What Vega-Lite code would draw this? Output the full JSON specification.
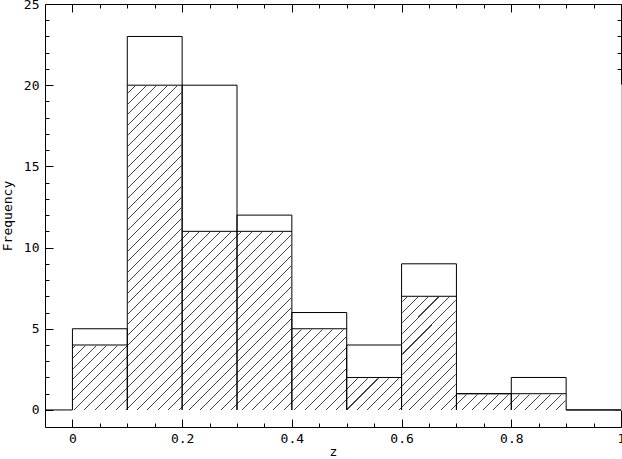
{
  "$schema": "https://vega.github.io/schema/vega-lite/v6.json",
  "autosize": {"type": "none"},
  "padding": {"left": 45, "top": 4, "right": 1, "bottom": 32},
  "width": 576,
  "height": 423,
  "background": "white",
  "data": {"values": [
    {"z0": 0.0, "z1": 0.1, "total": 5, "hatched": 4},
    {"z0": 0.1, "z1": 0.2, "total": 23, "hatched": 20},
    {"z0": 0.2, "z1": 0.3, "total": 20, "hatched": 11},
    {"z0": 0.3, "z1": 0.4, "total": 12, "hatched": 11},
    {"z0": 0.4, "z1": 0.5, "total": 6, "hatched": 5},
    {"z0": 0.5, "z1": 0.6, "total": 4, "hatched": 2},
    {"z0": 0.6, "z1": 0.7, "total": 9, "hatched": 7},
    {"z0": 0.7, "z1": 0.8, "total": 1, "hatched": 1},
    {"z0": 0.8, "z1": 0.9, "total": 2, "hatched": 1},
    {"z0": 0.9, "z1": 1.0, "total": 0, "hatched": 0}
  ]},
  "resolve": {"axis": {"x": "independent", "y": "independent"}},
  "layer": [
    {
      "transform": [{"aggregate": [
        {"op": "min", "field": "z0", "as": "lo"},
        {"op": "max", "field": "z1", "as": "hi"},
        {"op": "max", "field": "hatched", "as": "top"}
      ]}],
      "mark": {"type": "rect", "fill": {"gradient": "linear", "x1": 0, "y1": 0, "x2": 1.1789, "y2": 0.6979, "stops": [
        {"offset": 0, "color": "#404040"}, {"offset": 0.00115, "color": "#404040"}, {"offset": 0.00115, "color": "white"},
        {"offset": 0.01202, "color": "white"}, {"offset": 0.01202, "color": "#404040"}, {"offset": 0.01317, "color": "#404040"}, {"offset": 0.01317, "color": "white"},
        {"offset": 0.02404, "color": "white"}, {"offset": 0.02404, "color": "#404040"}, {"offset": 0.02519, "color": "#404040"}, {"offset": 0.02519, "color": "white"},
        {"offset": 0.03606, "color": "white"}, {"offset": 0.03606, "color": "#404040"}, {"offset": 0.03721, "color": "#404040"}, {"offset": 0.03721, "color": "white"},
        {"offset": 0.04808, "color": "white"}, {"offset": 0.04808, "color": "#404040"}, {"offset": 0.04923, "color": "#404040"}, {"offset": 0.04923, "color": "white"},
        {"offset": 0.0601, "color": "white"}, {"offset": 0.0601, "color": "#404040"}, {"offset": 0.06125, "color": "#404040"}, {"offset": 0.06125, "color": "white"},
        {"offset": 0.07212, "color": "white"}, {"offset": 0.07212, "color": "#404040"}, {"offset": 0.07327, "color": "#404040"}, {"offset": 0.07327, "color": "white"},
        {"offset": 0.08414, "color": "white"}, {"offset": 0.08414, "color": "#404040"}, {"offset": 0.08529, "color": "#404040"}, {"offset": 0.08529, "color": "white"},
        {"offset": 0.09616, "color": "white"}, {"offset": 0.09616, "color": "#404040"}, {"offset": 0.09731, "color": "#404040"}, {"offset": 0.09731, "color": "white"},
        {"offset": 0.10818, "color": "white"}, {"offset": 0.10818, "color": "#404040"}, {"offset": 0.10933, "color": "#404040"}, {"offset": 0.10933, "color": "white"},
        {"offset": 0.1202, "color": "white"}, {"offset": 0.1202, "color": "#404040"}, {"offset": 0.12135, "color": "#404040"}, {"offset": 0.12135, "color": "white"},
        {"offset": 0.13222, "color": "white"}, {"offset": 0.13222, "color": "#404040"}, {"offset": 0.13337, "color": "#404040"}, {"offset": 0.13337, "color": "white"},
        {"offset": 0.14424, "color": "white"}, {"offset": 0.14424, "color": "#404040"}, {"offset": 0.14539, "color": "#404040"}, {"offset": 0.14539, "color": "white"},
        {"offset": 0.15626, "color": "white"}, {"offset": 0.15626, "color": "#404040"}, {"offset": 0.15741, "color": "#404040"}, {"offset": 0.15741, "color": "white"},
        {"offset": 0.16828, "color": "white"}, {"offset": 0.16828, "color": "#404040"}, {"offset": 0.16943, "color": "#404040"}, {"offset": 0.16943, "color": "white"},
        {"offset": 0.1803, "color": "white"}, {"offset": 0.1803, "color": "#404040"}, {"offset": 0.18145, "color": "#404040"}, {"offset": 0.18145, "color": "white"},
        {"offset": 0.19232, "color": "white"}, {"offset": 0.19232, "color": "#404040"}, {"offset": 0.19347, "color": "#404040"}, {"offset": 0.19347, "color": "white"},
        {"offset": 0.20434, "color": "white"}, {"offset": 0.20434, "color": "#404040"}, {"offset": 0.20549, "color": "#404040"}, {"offset": 0.20549, "color": "white"},
        {"offset": 0.21636, "color": "white"}, {"offset": 0.21636, "color": "#404040"}, {"offset": 0.21751, "color": "#404040"}, {"offset": 0.21751, "color": "white"},
        {"offset": 0.22838, "color": "white"}, {"offset": 0.22838, "color": "#404040"}, {"offset": 0.22953, "color": "#404040"}, {"offset": 0.22953, "color": "white"},
        {"offset": 0.2404, "color": "white"}, {"offset": 0.2404, "color": "#404040"}, {"offset": 0.24155, "color": "#404040"}, {"offset": 0.24155, "color": "white"},
        {"offset": 0.25242, "color": "white"}, {"offset": 0.25242, "color": "#404040"}, {"offset": 0.25357, "color": "#404040"}, {"offset": 0.25357, "color": "white"},
        {"offset": 0.26444, "color": "white"}, {"offset": 0.26444, "color": "#404040"}, {"offset": 0.26559, "color": "#404040"}, {"offset": 0.26559, "color": "white"},
        {"offset": 0.27646, "color": "white"}, {"offset": 0.27646, "color": "#404040"}, {"offset": 0.27761, "color": "#404040"}, {"offset": 0.27761, "color": "white"},
        {"offset": 0.28848, "color": "white"}, {"offset": 0.28848, "color": "#404040"}, {"offset": 0.28963, "color": "#404040"}, {"offset": 0.28963, "color": "white"},
        {"offset": 0.3005, "color": "white"}, {"offset": 0.3005, "color": "#404040"}, {"offset": 0.30165, "color": "#404040"}, {"offset": 0.30165, "color": "white"},
        {"offset": 0.31252, "color": "white"}, {"offset": 0.31252, "color": "#404040"}, {"offset": 0.31367, "color": "#404040"}, {"offset": 0.31367, "color": "white"},
        {"offset": 0.32454, "color": "white"}, {"offset": 0.32454, "color": "#404040"}, {"offset": 0.32569, "color": "#404040"}, {"offset": 0.32569, "color": "white"},
        {"offset": 0.33656, "color": "white"}, {"offset": 0.33656, "color": "#404040"}, {"offset": 0.33771, "color": "#404040"}, {"offset": 0.33771, "color": "white"},
        {"offset": 0.34858, "color": "white"}, {"offset": 0.34858, "color": "#404040"}, {"offset": 0.34973, "color": "#404040"}, {"offset": 0.34973, "color": "white"},
        {"offset": 0.3606, "color": "white"}, {"offset": 0.3606, "color": "#404040"}, {"offset": 0.36175, "color": "#404040"}, {"offset": 0.36175, "color": "white"},
        {"offset": 0.37262, "color": "white"}, {"offset": 0.37262, "color": "#404040"}, {"offset": 0.37377, "color": "#404040"}, {"offset": 0.37377, "color": "white"},
        {"offset": 0.38464, "color": "white"}, {"offset": 0.38464, "color": "#404040"}, {"offset": 0.38579, "color": "#404040"}, {"offset": 0.38579, "color": "white"},
        {"offset": 0.39666, "color": "white"}, {"offset": 0.39666, "color": "#404040"}, {"offset": 0.39781, "color": "#404040"}, {"offset": 0.39781, "color": "white"},
        {"offset": 0.40868, "color": "white"}, {"offset": 0.40868, "color": "#404040"}, {"offset": 0.40983, "color": "#404040"}, {"offset": 0.40983, "color": "white"},
        {"offset": 0.4207, "color": "white"}, {"offset": 0.4207, "color": "#404040"}, {"offset": 0.42185, "color": "#404040"}, {"offset": 0.42185, "color": "white"},
        {"offset": 0.43272, "color": "white"}, {"offset": 0.43272, "color": "#404040"}, {"offset": 0.43387, "color": "#404040"}, {"offset": 0.43387, "color": "white"},
        {"offset": 0.44474, "color": "white"}, {"offset": 0.44474, "color": "#404040"}, {"offset": 0.44589, "color": "#404040"}, {"offset": 0.44589, "color": "white"},
        {"offset": 0.45676, "color": "white"}, {"offset": 0.45676, "color": "#404040"}, {"offset": 0.45791, "color": "#404040"}, {"offset": 0.45791, "color": "white"},
        {"offset": 0.46878, "color": "white"}, {"offset": 0.46878, "color": "#404040"}, {"offset": 0.46993, "color": "#404040"}, {"offset": 0.46993, "color": "white"},
        {"offset": 0.4808, "color": "white"}, {"offset": 0.4808, "color": "#404040"}, {"offset": 0.48195, "color": "#404040"}, {"offset": 0.48195, "color": "white"},
        {"offset": 0.49282, "color": "white"}, {"offset": 0.49282, "color": "#404040"}, {"offset": 0.49397, "color": "#404040"}, {"offset": 0.49397, "color": "white"},
        {"offset": 0.50484, "color": "white"}, {"offset": 0.50484, "color": "#404040"}, {"offset": 0.50599, "color": "#404040"}, {"offset": 0.50599, "color": "white"},
        {"offset": 0.51686, "color": "white"}, {"offset": 0.51686, "color": "#404040"}, {"offset": 0.51801, "color": "#404040"}, {"offset": 0.51801, "color": "white"},
        {"offset": 0.52888, "color": "white"}, {"offset": 0.52888, "color": "#404040"}, {"offset": 0.53003, "color": "#404040"}, {"offset": 0.53003, "color": "white"},
        {"offset": 0.5409, "color": "white"}, {"offset": 0.5409, "color": "#404040"}, {"offset": 0.54205, "color": "#404040"}, {"offset": 0.54205, "color": "white"},
        {"offset": 0.55292, "color": "white"}, {"offset": 0.55292, "color": "#404040"}, {"offset": 0.55407, "color": "#404040"}, {"offset": 0.55407, "color": "white"},
        {"offset": 0.56494, "color": "white"}, {"offset": 0.56494, "color": "#404040"}, {"offset": 0.56609, "color": "#404040"}, {"offset": 0.56609, "color": "white"},
        {"offset": 0.57696, "color": "white"}, {"offset": 0.57696, "color": "#404040"}, {"offset": 0.57811, "color": "#404040"}, {"offset": 0.57811, "color": "white"},
        {"offset": 0.58898, "color": "white"}, {"offset": 0.58898, "color": "#404040"}, {"offset": 0.59013, "color": "#404040"}, {"offset": 0.59013, "color": "white"},
        {"offset": 0.601, "color": "white"}, {"offset": 0.601, "color": "#404040"}, {"offset": 0.60215, "color": "#404040"}, {"offset": 0.60215, "color": "white"},
        {"offset": 0.61302, "color": "white"}, {"offset": 0.61302, "color": "#404040"}, {"offset": 0.61417, "color": "#404040"}, {"offset": 0.61417, "color": "white"},
        {"offset": 0.62504, "color": "white"}, {"offset": 0.62504, "color": "#404040"}, {"offset": 0.62619, "color": "#404040"}, {"offset": 0.62619, "color": "white"},
        {"offset": 0.63706, "color": "white"}, {"offset": 0.63706, "color": "#404040"}, {"offset": 0.63821, "color": "#404040"}, {"offset": 0.63821, "color": "white"},
        {"offset": 0.64908, "color": "white"}, {"offset": 0.64908, "color": "#404040"}, {"offset": 0.65023, "color": "#404040"}, {"offset": 0.65023, "color": "white"},
        {"offset": 0.6611, "color": "white"}, {"offset": 0.6611, "color": "#404040"}, {"offset": 0.66225, "color": "#404040"}, {"offset": 0.66225, "color": "white"},
        {"offset": 0.67312, "color": "white"}, {"offset": 0.67312, "color": "#404040"}, {"offset": 0.67427, "color": "#404040"}, {"offset": 0.67427, "color": "white"},
        {"offset": 0.68514, "color": "white"}, {"offset": 0.68514, "color": "#404040"}, {"offset": 0.68629, "color": "#404040"}, {"offset": 0.68629, "color": "white"},
        {"offset": 0.69716, "color": "white"}, {"offset": 0.69716, "color": "#404040"}, {"offset": 0.69831, "color": "#404040"}, {"offset": 0.69831, "color": "white"},
        {"offset": 0.70918, "color": "white"}, {"offset": 0.70918, "color": "#404040"}, {"offset": 0.71033, "color": "#404040"}, {"offset": 0.71033, "color": "white"},
        {"offset": 0.7212, "color": "white"}, {"offset": 0.7212, "color": "#404040"}, {"offset": 0.72235, "color": "#404040"}, {"offset": 0.72235, "color": "white"},
        {"offset": 0.73322, "color": "white"}, {"offset": 0.73322, "color": "#404040"}, {"offset": 0.73437, "color": "#404040"}, {"offset": 0.73437, "color": "white"},
        {"offset": 0.74524, "color": "white"}, {"offset": 0.74524, "color": "#404040"}, {"offset": 0.74639, "color": "#404040"}, {"offset": 0.74639, "color": "white"},
        {"offset": 0.75726, "color": "white"}, {"offset": 0.75726, "color": "#404040"}, {"offset": 0.75841, "color": "#404040"}, {"offset": 0.75841, "color": "white"},
        {"offset": 0.76928, "color": "white"}, {"offset": 0.76928, "color": "#404040"}, {"offset": 0.77043, "color": "#404040"}, {"offset": 0.77043, "color": "white"},
        {"offset": 0.7813, "color": "white"}, {"offset": 0.7813, "color": "#404040"}, {"offset": 0.78245, "color": "#404040"}, {"offset": 0.78245, "color": "white"},
        {"offset": 0.79332, "color": "white"}, {"offset": 0.79332, "color": "#404040"}, {"offset": 0.79447, "color": "#404040"}, {"offset": 0.79447, "color": "white"},
        {"offset": 0.80534, "color": "white"}, {"offset": 0.80534, "color": "#404040"}, {"offset": 0.80649, "color": "#404040"}, {"offset": 0.80649, "color": "white"},
        {"offset": 0.81736, "color": "white"}, {"offset": 0.81736, "color": "#404040"}, {"offset": 0.81851, "color": "#404040"}, {"offset": 0.81851, "color": "white"},
        {"offset": 0.82938, "color": "white"}, {"offset": 0.82938, "color": "#404040"}, {"offset": 0.83053, "color": "#404040"}, {"offset": 0.83053, "color": "white"},
        {"offset": 0.8414, "color": "white"}, {"offset": 0.8414, "color": "#404040"}, {"offset": 0.84255, "color": "#404040"}, {"offset": 0.84255, "color": "white"},
        {"offset": 0.85342, "color": "white"}, {"offset": 0.85342, "color": "#404040"}, {"offset": 0.85457, "color": "#404040"}, {"offset": 0.85457, "color": "white"},
        {"offset": 0.86544, "color": "white"}, {"offset": 0.86544, "color": "#404040"}, {"offset": 0.86659, "color": "#404040"}, {"offset": 0.86659, "color": "white"},
        {"offset": 0.87746, "color": "white"}, {"offset": 0.87746, "color": "#404040"}, {"offset": 0.87861, "color": "#404040"}, {"offset": 0.87861, "color": "white"},
        {"offset": 0.88948, "color": "white"}, {"offset": 0.88948, "color": "#404040"}, {"offset": 0.89063, "color": "#404040"}, {"offset": 0.89063, "color": "white"},
        {"offset": 0.9015, "color": "white"}, {"offset": 0.9015, "color": "#404040"}, {"offset": 0.90265, "color": "#404040"}, {"offset": 0.90265, "color": "white"},
        {"offset": 0.91352, "color": "white"}, {"offset": 0.91352, "color": "#404040"}, {"offset": 0.91467, "color": "#404040"}, {"offset": 0.91467, "color": "white"},
        {"offset": 0.92554, "color": "white"}, {"offset": 0.92554, "color": "#404040"}, {"offset": 0.92669, "color": "#404040"}, {"offset": 0.92669, "color": "white"},
        {"offset": 0.93756, "color": "white"}, {"offset": 0.93756, "color": "#404040"}, {"offset": 0.93871, "color": "#404040"}, {"offset": 0.93871, "color": "white"},
        {"offset": 0.94958, "color": "white"}, {"offset": 0.94958, "color": "#404040"}, {"offset": 0.95073, "color": "#404040"}, {"offset": 0.95073, "color": "white"},
        {"offset": 0.9616, "color": "white"}, {"offset": 0.9616, "color": "#404040"}, {"offset": 0.96275, "color": "#404040"}, {"offset": 0.96275, "color": "white"},
        {"offset": 0.97362, "color": "white"}, {"offset": 0.97362, "color": "#404040"}, {"offset": 0.97477, "color": "#404040"}, {"offset": 0.97477, "color": "white"},
        {"offset": 0.98564, "color": "white"}, {"offset": 0.98564, "color": "#404040"}, {"offset": 0.98679, "color": "#404040"}, {"offset": 0.98679, "color": "white"},
        {"offset": 0.99766, "color": "white"}, {"offset": 0.99766, "color": "#404040"}, {"offset": 0.99881, "color": "#404040"}, {"offset": 0.99881, "color": "white"},
        {"offset": 1, "color": "white"}
      ]}},
      "encoding": {
        "x": {"field": "lo", "type": "quantitative",
              "scale": {"domain": [-0.05, 1], "nice": false, "zero": false},
              "axis": {"orient": "bottom", "values": [0, 0.2, 0.4, 0.6, 0.8, 1], "tickSize": -8, "format": "~g", "labelPadding": 13, "title": "z", "titlePadding": 0}},
        "x2": {"field": "hi"},
        "y": {"field": "top", "type": "quantitative",
              "scale": {"domain": [-1.05, 25], "nice": false, "zero": false},
              "axis": {"orient": "left", "values": [0, 5, 10, 15, 20, 25], "tickSize": -8, "format": "~g", "labelPadding": 14, "title": "Frequency", "titlePadding": 9}},
        "y2": {"datum": 0}
      }
    },
    {
      "transform": [{"joinaggregate": [{"op": "max", "field": "hatched", "as": "top"}]}],
      "mark": {"type": "rect", "fill": "white", "stroke": "white", "strokeWidth": 1.5},
      "encoding": {
        "x": {"field": "z0", "type": "quantitative",
              "axis": {"orient": "bottom", "values": [0.05, 0.1, 0.15, 0.25, 0.3, 0.35, 0.45, 0.5, 0.55, 0.65, 0.7, 0.75, 0.85, 0.9, 0.95], "tickSize": -4, "labels": false, "domain": false, "title": null}},
        "x2": {"field": "z1"},
        "y": {"field": "hatched", "type": "quantitative",
              "axis": {"orient": "left", "values": [1, 2, 3, 4, 6, 7, 8, 9, 11, 12, 13, 14, 16, 17, 18, 19, 21, 22, 23, 24], "tickSize": -4, "labels": false, "domain": false, "title": null}},
        "y2": {"field": "top"}
      }
    },
    {
      "mark": {"type": "rule", "color": "black", "strokeWidth": 1},
      "encoding": {
        "x": {"field": "z0", "type": "quantitative",
              "axis": {"orient": "top", "values": [0, 0.2, 0.4, 0.6, 0.8, 1], "tickSize": -8, "labels": false, "title": null}},
        "x2": {"field": "z1"},
        "y": {"field": "total", "type": "quantitative",
              "axis": {"orient": "right", "values": [0, 5, 10, 15, 20, 25], "tickSize": -8, "labels": false, "title": null}}
      }
    },
    {
      "mark": {"type": "rule", "color": "black", "strokeWidth": 1},
      "encoding": {
        "x": {"field": "z0", "type": "quantitative",
              "axis": {"orient": "top", "values": [0.05, 0.1, 0.15, 0.25, 0.3, 0.35, 0.45, 0.5, 0.55, 0.65, 0.7, 0.75, 0.85, 0.9, 0.95], "tickSize": -4, "labels": false, "domain": false, "title": null}},
        "y": {"field": "total", "type": "quantitative",
              "axis": {"orient": "right", "values": [1, 2, 3, 4, 6, 7, 8, 9, 11, 12, 13, 14, 16, 17, 18, 19, 21, 22, 23, 24], "tickSize": -4, "labels": false, "domain": false, "title": null}},
        "y2": {"datum": 0}
      }
    },
    {
      "mark": {"type": "rule", "color": "black", "strokeWidth": 1},
      "encoding": {
        "x": {"field": "z1", "type": "quantitative", "axis": null},
        "y": {"field": "total", "type": "quantitative", "axis": null},
        "y2": {"datum": 0}
      }
    },
    {
      "mark": {"type": "rule", "color": "black", "strokeWidth": 1},
      "encoding": {
        "x": {"field": "z0", "type": "quantitative", "axis": null},
        "x2": {"field": "z1"},
        "y": {"field": "hatched", "type": "quantitative", "axis": null}
      }
    },
    {
      "transform": [{"filter": "datum.z0 === 0"}],
      "mark": {"type": "rule", "color": "black", "strokeWidth": 1},
      "encoding": {
        "x": {"field": "z0", "type": "quantitative", "axis": null},
        "x2": {"datum": -0.05},
        "y": {"datum": 0, "type": "quantitative", "axis": null}
      }
    }
  ],
  "config": {
    "view": {"stroke": null},
    "axis": {
      "domain": true, "domainColor": "black", "domainWidth": 1,
      "grid": false, "ticks": true, "tickColor": "black", "tickWidth": 1,
      "labelFont": "DejaVu Sans Mono", "labelFontSize": 13, "labelColor": "black",
      "labelFlush": false, "labelOverlap": false,
      "titleFont": "DejaVu Sans Mono", "titleFontSize": 13, "titleFontWeight": "normal", "titleColor": "black",
      "zindex": 1
    }
  }
}
